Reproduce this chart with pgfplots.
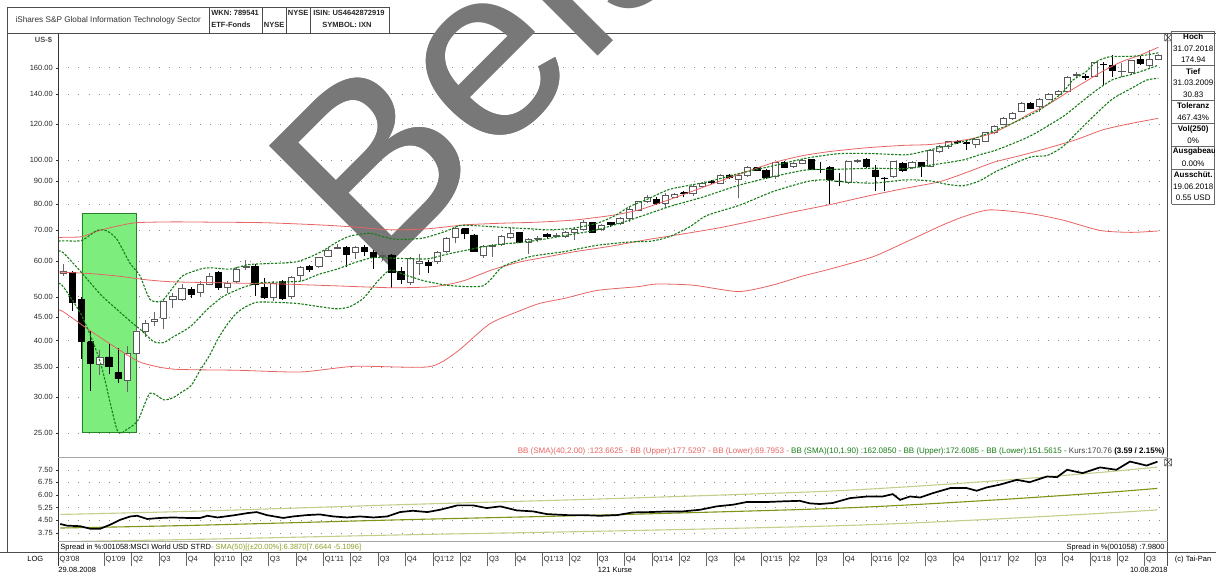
\documentclass[border=0pt]{standalone}
\usepackage{pgfplots}
\pgfplotsset{compat=1.18}
\usepackage{pgfplotstable}
\usepackage{fontspec}
\setmainfont{Liberation Sans}
\definecolor{bbred}{RGB}{232,100,100}
\definecolor{bbgreen}{RGB}{25,125,25}
\definecolor{boxgreen}{RGB}{125,238,125}
\definecolor{boxedge}{RGB}{40,130,40}
\definecolor{olivemid}{RGB}{125,150,20}
\definecolor{olivelight}{RGB}{195,208,140}
\definecolor{olivetext}{RGB}{140,160,40}
\definecolor{wm}{RGB}{120,120,120}
\definecolor{gridc}{RGB}{140,140,140}
\newcommand\fs{\fontsize{7.5}{9}\selectfont}
\newcommand\fsb{\fontsize{8}{9.5}\selectfont}
\newcommand\q{\textquotesingle}
\newcommand\wmfont{\fontsize{245}{245}\selectfont}

\pgfplotstableread{
i o h l c
0 56.4 59.0 55.5 56.8
1 56.6 57.0 46.5 48.5
2 49.3 50.0 36.5 39.8
3 39.8 42.0 31.0 35.6
4 35.4 38.2 33.5 36.8
5 36.8 39.4 33.7 35.1
6 34.0 38.5 32.3 33.0
7 32.6 38.9 30.83 37.4
8 37.4 43.0 36.6 42.0
9 41.9 44.5 40.8 43.7
10 44.2 46.3 43.1 44.5
11 44.8 49.2 42.4 48.9
12 49.2 50.8 47.3 50.0
13 49.2 53.2 48.8 52.1
14 51.9 52.6 49.7 50.7
15 51.0 54.2 50.0 53.1
16 53.3 56.3 53.0 55.5
17 56.5 57.0 51.8 52.3
18 52.3 54.1 51.0 53.5
19 53.9 58.0 53.5 57.5
20 58.0 60.3 57.2 58.4
21 58.4 59.0 50.1 53.2
22 52.4 55.0 49.5 49.7
23 49.7 54.0 48.9 53.5
24 54.0 54.3 49.2 49.5
25 50.0 55.5 49.5 55.1
26 55.6 58.5 54.0 58.1
27 58.3 58.7 56.8 57.4
28 58.3 61.3 57.8 61.0
29 61.5 64.5 61.3 63.3
30 64.0 65.3 63.6 64.3
31 64.3 64.8 58.1 62.1
32 62.5 64.6 60.6 64.1
33 64.1 65.0 61.4 62.8
34 62.6 63.5 57.6 61.0
35 61.3 63.0 60.0 61.6
36 61.8 62.2 52.2 56.5
37 56.8 58.1 53.3 54.7
38 53.8 61.0 53.1 60.6
39 59.1 62.0 55.8 59.7
40 59.6 60.2 56.3 58.5
41 59.7 63.0 59.0 62.7
42 62.9 67.8 62.5 67.3
43 67.5 71.3 65.6 70.8
44 70.6 71.0 66.9 68.9
45 68.4 68.8 62.8 63.0
46 61.6 65.0 60.9 64.5
47 64.5 65.3 61.3 64.9
48 65.3 68.5 64.7 67.8
49 67.5 71.0 67.0 68.9
50 69.2 69.5 65.5 65.9
51 65.9 67.3 62.2 66.9
52 67.0 68.0 66.0 67.2
53 68.7 69.0 67.5 67.9
54 68.0 69.2 67.6 68.3
55 67.9 69.8 67.5 69.2
56 69.2 71.2 66.7 70.5
57 70.5 73.8 70.3 72.9
58 72.9 73.2 69.2 69.2
59 70.2 72.5 69.8 72.0
60 72.9 73.2 71.3 72.1
61 72.4 74.8 72.0 74.5
62 74.5 78.8 73.2 77.9
63 77.6 81.3 77.3 81.0
64 81.0 83.6 80.3 82.7
65 81.9 83.0 79.5 80.2
66 80.2 84.6 78.4 83.6
67 82.8 84.8 82.4 84.1
68 84.8 85.3 82.8 84.6
69 84.3 88.0 83.5 87.5
70 87.5 89.5 87.0 88.7
71 89.7 90.5 88.5 89.3
72 89.0 93.2 88.5 92.8
73 92.8 93.4 90.8 91.7
74 90.5 93.0 82.4 92.5
75 92.5 97.0 92.0 96.5
76 96.3 96.8 94.5 95.2
77 94.9 95.5 91.0 91.7
78 92.0 99.2 91.0 98.8
79 98.8 99.5 96.0 96.5
80 96.8 99.0 96.2 98.5
81 98.5 100.5 98.0 99.8
82 100.2 100.5 95.0 95.5
83 95.5 99.3 93.6 95.4
84 96.3 97.0 80.1 90.8
85 90.0 93.6 87.5 89.7
86 89.3 99.8 88.7 99.3
87 99.5 100.8 98.5 99.8
88 100.5 101.0 96.3 96.8
89 95.2 97.6 85.3 92.0
90 91.4 92.0 85.3 91.2
91 92.0 99.8 91.5 99.3
92 98.5 99.3 94.3 94.9
93 96.3 99.5 95.8 99.0
94 98.8 99.3 92.0 96.8
95 96.8 105.5 96.5 105.2
96 104.5 107.8 103.5 107.2
97 107.2 110.5 106.0 109.9
98 110.2 111.0 108.5 109.6
99 109.3 110.0 105.4 109.0
100 108.6 111.5 106.3 110.9
101 109.9 115.6 109.5 115.1
102 115.1 119.5 114.5 119.0
103 120.2 124.3 119.5 123.8
104 123.8 127.5 122.5 126.9
105 128.0 134.2 127.5 133.6
106 133.6 134.2 129.5 130.2
107 131.3 137.0 128.0 136.3
108 136.3 140.5 135.5 139.8
109 140.0 142.5 139.5 141.7
110 141.7 153.0 141.3 152.4
111 153.6 156.8 152.9 154.7
112 152.9 154.7 150.0 152.6
113 153.4 165.0 152.5 164.1
114 163.0 165.0 146.6 162.5
115 162.2 170.7 152.9 157.6
116 156.8 163.6 152.9 157.0
117 156.0 166.5 155.0 165.8
118 167.0 170.0 162.5 163.6
119 162.2 174.94 160.9 167.2
120 167.2 171.5 166.5 170.76
}\candles

\pgfplotstableread{
i v
-0.548 67.4
0 67.6
2 67.8
4 70.0
6 71.6
8 72.8
12 73.1
16 73.0
22 72.8
28 72.0
32 71.2
36 70.2
40 70.6
44 72.0
48 72.6
52 73.0
56 73.8
60 75.5
63 77.6
66 81.3
69 85.5
72 90.0
75 94.5
78 99.0
81 102.3
84 104.5
88 106.5
92 107.8
95 108.3
98 110.2
100 112.0
102 115.0
104 120.5
106 127.0
108 133.0
110 141.0
112 149.0
114 157.5
116 165.0
118 170.5
120 177.5
}\redup

\pgfplotstableread{
i v
-0.548 56.7
0 56.6
3 56.2
6 55.5
9 54.5
12 53.9
18 53.6
24 53.3
30 52.8
36 52.3
40 52.5
42 53.1
44 54.3
47 57.3
50 59.6
53 61.2
56 62.8
60 64.6
64 66.8
68 68.8
72 71.0
76 73.8
80 76.9
84 79.8
88 83.2
92 86.5
96 89.6
99 94.0
102 99.0
105 102.5
108 106.5
111 111.0
114 116.8
117 120.5
120 123.7
}\redmid

\pgfplotstableread{
i v
-0.548 46.7
0 46.3
3 42.0
6 38.3
8.5 35.8
12 34.6
19 34.4
26 34.1
32 35.1
40 35.0
43 37.6
46.7 43.5
50 46.5
52.2 48.3
55 49.6
58.5 51.6
63 52.6
65 53.3
69 53.0
74 51.3
77.7 53.0
81 55.5
84 57.5
88.7 61.2
92 65.5
96 71.4
98.6 75.0
101.5 77.7
105.9 76.3
109.5 73.8
113.6 70.0
117 69.3
120 69.8
}\redlow

\pgfplotstableread{
i v
-0.548 66.3
0 66.4
2 66.5
3.7 70.0
4.8 69.8
5.9 66.8
7.3 59.3
8.4 55.6
9.5 49.3
10.8 48.9
12 52.3
13.1 55.6
15 57.5
16.1 57.9
18.3 57.5
20.2 58.8
22 59.1
24 59.3
25.6 59.7
27.1 61.2
28.5 63.2
30 66.0
31.4 68.0
33.6 69.0
35 67.8
36.5 66.9
39.4 67.3
42 69.8
43.5 71.8
45.7 71.6
48.6 71.0
51 70.6
53.3 70.2
55.9 70.8
58.5 72.6
60.5 75.5
62.1 79.1
64 82.0
66.5 86.3
70.5 89.5
74.2 93.6
77.8 97.2
81.5 101.1
85.1 103.4
88.7 103.4
92.4 102.8
95 105.4
98.6 109.9
100.4 112.7
104 120.6
107 129.1
109.5 141.0
110.6 150.0
112.1 156.8
113.2 165.0
114.7 169.2
117 169.5
118.7 170.7
120 172.6
}\gup

\pgfplotstableread{
i v
-0.548 63.0
0 62.5
2.1 56.2
4.1 50.5
5.9 46.8
7.7 43.5
8.4 42.4
9.9 39.8
11 39.6
12 40.7
13.9 42.9
15.8 46.9
17.5 50.0
19.4 52.1
21.2 53.5
23 53.8
26 54.1
28 56.0
30 57.5
32 59.5
34 61.0
36 60.8
38.3 60.6
40 60.6
42 62.0
44 63.2
46 64.4
48 65.3
50 65.8
52 66.6
55 68.2
58.5 70.2
62.1 73.8
66.5 79.1
70 82.8
74 88.0
77.8 92.0
81.5 95.2
85 95.5
88.7 96.0
92.4 95.8
95 97.5
98.6 100.1
100.4 102.8
102.3 105.4
105.9 112.9
109.5 124.6
111.4 133.6
113.3 143.1
115 150.6
117 154.5
118.7 158.5
120 162.1
}\gmid

\pgfplotstableread{
i v
-0.548 53.5
0 52.6
2.1 45.1
4.1 35.6
5.9 25.4
7 25.5
8.2 26.7
9.5 30.6
11 29.6
12 29.9
13 30.8
14 31.8
15 34.4
16 37.0
17 40.5
18 43.5
19 46.0
20 47.5
21.2 48.6
23 48.6
25.6 48.3
27.8 47.6
30 47.0
31.4 47.5
32.9 49.6
34.4 53.9
35.8 57.2
37.5 55.8
39.5 54.2
42 53.0
44.3 52.6
46 52.8
47 55.0
48.2 58.3
51.2 61.3
54.8 62.8
58.5 64.9
62.1 66.0
64.5 66.3
66.5 67.9
68.7 71.4
70.5 75.5
74.2 79.7
77.8 85.3
81.5 89.7
83.3 90.5
85.1 89.7
88.7 89.0
92.4 90.5
95 90.0
96.8 88.5
98.6 87.8
100.4 90.0
102.3 94.6
105.9 101.5
107.8 102.4
109.5 107.0
111.4 116.7
113.3 127.3
115 136.6
117 143.9
118.7 150.2
120 151.6
}\glow

\pgfplotstableread{
i v
-0.33 4.27
0.44 4.17
1.86 4.14
2.96 3.99
4.05 3.99
5.15 4.23
6.24 4.52
7.34 4.72
8.1 4.76
9.2 4.57
10.6 4.63
12.0 4.66
13.6 4.63
15.0 4.63
15.8 4.76
16.9 4.66
18.6 4.78
20.2 4.92
21.2 4.98
22.3 4.80
24.1 4.63
25.2 4.72
26.7 4.80
28.1 4.84
29.6 4.72
31.1 4.66
32.5 4.72
34.0 4.66
35.5 4.72
36.9 4.98
38.3 5.06
39.9 4.98
41.3 5.12
43.2 5.38
44.9 5.38
46.4 5.22
47.9 5.32
49.7 5.08
51.5 5.02
53.0 4.86
55.2 4.80
57.0 4.80
58.8 4.76
60.7 4.80
62.4 4.96
64.3 4.98
66.2 5.02
67.9 5.02
69.8 5.12
71.6 5.32
73.4 5.42
74.9 5.58
77.1 5.58
78.9 5.62
80.7 5.65
81.8 5.50
82.9 5.46
84.3 5.52
86.2 5.81
88.1 5.91
89.8 5.91
90.9 6.05
91.7 5.71
92.8 5.91
93.9 5.85
95.3 6.11
97.2 6.41
99.0 6.41
100.1 6.25
101.2 6.45
102.6 6.61
104.5 6.90
105.9 6.76
107.8 7.10
108.9 7.06
110.0 7.50
111.7 7.30
113.6 7.64
115.4 7.50
116.9 7.99
118.7 7.75
119.9 7.98
}\spread

\pgfplotstableread{
i mid up low
-0.33 4.03 4.84 3.22
15.0 4.20 5.04 3.36
36.9 4.52 5.42 3.62
58.8 4.80 5.76 3.84
81.8 5.15 6.18 4.12
91.7 5.38 6.46 4.30
102.6 5.72 6.86 4.58
113.6 6.12 7.34 4.90
119.9 6.39 7.66 5.11
}\sma

\begin{document}
\begin{tikzpicture}
\begin{scope}[x=1pt,y=1pt]
\useasboundingbox (0,0) rectangle (1216,574);
\fill[white] (0,0) rectangle (1216,574);
\draw[black!70, line width=0.6pt] (7,541) -- (1216,541);
\draw[black!70, line width=0.6pt] (7,541) -- (7,21);
\begin{scope}
\clip (0,0) rectangle (1216,574);
\node[anchor=base west, inner sep=0, rotate=45, text=wm, font=\wmfont] at (374,294.6) {Beispiel};
\end{scope}
\end{scope}

% ---------- main price panel ----------
\begin{axis}[at={(58pt,116pt)}, anchor=south west, scale only axis,
  width=1110pt, height=424pt,
  xmin=-0.548, xmax=121.03, ymode=log, ymin=22.05, ymax=189.9,
  xtick=\empty,
  ytick={25,30,35,40,45,50,60,70,80,90,100,120,140,160},
  yticklabels={25.00,30.00,35.00,40.00,45.00,50.00,60.00,70.00,80.00,90.00,100.00,120.00,140.00,160.00},
  yminorticks=false,
  ytick pos=left, tick align=outside, major tick length=2pt,
  ytick style={black!80},
  yticklabel style={font=\fs, text=black!85},
  ymajorgrids, grid style={gridc, dash pattern=on 0.8pt off 9.3pt},
  axis line style={draw=none},
  clip=true]
\node[anchor=base west, inner sep=0, rotate=45, text=wm, font=\wmfont] at (rel axis cs:0.284685,0.421226) {Beispiel};
\addplot[fill=boxgreen, draw=boxedge, line width=0.8pt] coordinates {(2.05,25.05) (7.96,25.05) (7.96,76.4) (2.05,76.4) (2.05,25.05)};
\pgfplotsinvokeforeach{0,...,120}{%
  \pgfplotstablegetelem{#1}{o}\of\candles \let\co\pgfplotsretval
  \pgfplotstablegetelem{#1}{h}\of\candles \let\ch\pgfplotsretval
  \pgfplotstablegetelem{#1}{l}\of\candles \let\cl\pgfplotsretval
  \pgfplotstablegetelem{#1}{c}\of\candles \let\cc\pgfplotsretval
  \pgfmathsetmacro\xa{#1-0.34}%
  \pgfmathsetmacro\xb{#1+0.34}%
  \ifdim\cc pt<\co pt \def\cstyle{fill=black, draw=black, line width=0.7pt}\def\wstyle{black}%
  \else \def\cstyle{fill=white, draw=black!65, line width=0.7pt}\def\wstyle{black!60}\fi
  \edef\doplot{\noexpand\addplot[\wstyle, line width=0.8pt] coordinates {(#1,\cl) (#1,\ch)};
    \noexpand\addplot[\cstyle] coordinates {(\xa,\co) (\xb,\co) (\xb,\cc) (\xa,\cc) (\xa,\co)};}%
  \doplot
}
\addplot[bbred, line width=0.8pt, smooth, tension=0.4] table[x=i,y=v] {\redup};
\addplot[bbred, line width=0.8pt, smooth, tension=0.4] table[x=i,y=v] {\redmid};
\addplot[bbred, line width=0.8pt, smooth, tension=0.4] table[x=i,y=v] {\redlow};
\addplot[bbgreen, line width=1.1pt, dash pattern=on 2.4pt off 1.4pt, smooth, tension=0.4] table[x=i,y=v] {\gup};
\addplot[bbgreen, line width=1.1pt, dash pattern=on 2.4pt off 1.4pt, smooth, tension=0.4] table[x=i,y=v] {\gmid};
\addplot[bbgreen, line width=1.1pt, dash pattern=on 2.4pt off 1.4pt, smooth, tension=0.4] table[x=i,y=v] {\glow};
\end{axis}

% ---------- lower spread panel ----------
\begin{axis}[at={(58pt,32pt)}, anchor=south west, scale only axis,
  width=1110pt, height=84pt,
  xmin=-0.548, xmax=121.03, ymin=3.214, ymax=8.214,
  xtick=\empty,
  ytick={3.75,4.5,5.25,6,6.75,7.5},
  yticklabels={3.75,4.50,5.25,6.00,6.75,7.50},
  ytick pos=left, tick align=outside, major tick length=2pt,
  ytick style={black!80},
  yticklabel style={font=\fs, text=black!85},
  ymajorgrids, grid style={gridc, dash pattern=on 0.8pt off 9.3pt},
  axis line style={draw=none}]
\addplot[olivelight, line width=1.1pt, smooth] table[x=i,y=up] {\sma};
\addplot[olivelight, line width=1.1pt, smooth] table[x=i,y=low] {\sma};
\addplot[olivemid, line width=1.1pt, smooth] table[x=i,y=mid] {\sma};
\addplot[black, line width=1.7pt] table[x=i,y=v] {\spread};
\end{axis}

% ---------- time axis row ----------
\begin{axis}[at={(58pt,8pt)}, anchor=south west, scale only axis,
  width=1110pt, height=13pt,
  xmin=-0.548, xmax=121.03, ymin=0, ymax=1, ytick=\empty,
  xtick={-0.548,4.5,7.5,10.5,13.5,16.5,19.5,22.5,25.5,28.5,31.5,34.5,37.5,40.5,43.5,46.5,49.5,52.5,55.5,58.5,61.5,64.5,67.5,70.5,73.5,76.5,79.5,82.5,85.5,88.5,91.5,94.5,97.5,100.5,103.5,106.5,109.5,112.5,115.5,118.5},
  xticklabels={Q3\q08,Q1\q09,Q2,Q3,Q4,Q1\q10,Q2,Q3,Q4,Q1\q11,Q2,Q3,Q4,Q1\q12,Q2,Q3,Q4,Q1\q13,Q2,Q3,Q4,Q1\q14,Q2,Q3,Q4,Q1\q15,Q2,Q3,Q4,Q1\q16,Q2,Q3,Q4,Q1\q17,Q2,Q3,Q4,Q1\q18,Q2,Q3},
  xmajorgrids, major grid style={black!60, line width=0.5pt},
  major tick length=0pt,
  xticklabel style={anchor=west, font=\fs, text=black!85, yshift=6.5pt, inner sep=1.2pt},
  axis line style={draw=none}]
\addplot[draw=none] coordinates {(0,0.5)};
\end{axis}

\begin{scope}[x=1pt,y=1pt]
\draw[black!80, line width=0.6pt] (58,541) -- (58,8);
\draw[black!70, line width=0.6pt] (1168,541) -- (1168,8);
\draw[gray!70, line width=1.3pt] (58,116) -- (1168,116);
\draw[gray!70, line width=1.3pt] (58,32) -- (1168,32);
\draw[black!70, line width=0.6pt] (0,21) -- (1216,21);
\draw[black!70, line width=0.5pt] (1165,533) rectangle (1172,540) (1165,533) -- (1172,540) (1165,540) -- (1172,533);
\draw[black!70, line width=0.5pt] (1165,108) rectangle (1172,115) (1165,108) -- (1172,115) (1165,115) -- (1172,108);
% header
\draw[black!70, line width=0.6pt] (7,566.3) rectangle (389,541);
\foreach \x in {209,262,286,310} \draw[black!70, line width=0.6pt] (\x,566.3) -- (\x,541);
\node[font=\fontsize{8.2}{9}\selectfont, text=black!80] at (108,554) {iShares S\&P Global Information Technology Sector};
\node[font=\fs\bfseries, anchor=west, inner sep=0, text=black!85] at (211,561) {WKN: 789541};
\node[font=\fs\bfseries, anchor=west, inner sep=0, text=black!85] at (211,549) {ETF-Fonds};
\node[font=\fs\bfseries, text=black!85] at (274,549) {NYSE};
\node[font=\fs\bfseries, text=black!85] at (298,561) {NYSE};
\node[font=\fs\bfseries, anchor=west, inner sep=0, text=black!85] at (313,561) {ISIN: US4642872919};
\node[font=\fs\bfseries, anchor=west, inner sep=0, text=black!85] at (322,549) {SYMBOL: IXN};
% right info panel
\foreach \y in {543,508.5,474,451,428,405,370} \draw[black!60, line width=0.5pt] (1172,\y) -- (1215,\y);
\draw[black!60, line width=0.5pt] (1172,543) -- (1172,370) (1215,543) -- (1215,370);
\begin{scope}
\clip (1172,360) rectangle (1215,545);
\node[font=\fsb\bfseries] at (1193.5,537) {Hoch};
\node[font=\fsb] at (1193.5,525.5) {31.07.2018};
\node[font=\fsb] at (1193.5,514) {174.94};
\node[font=\fsb\bfseries] at (1193.5,502.5) {Tief};
\node[font=\fsb] at (1193.5,491) {31.03.2009};
\node[font=\fsb] at (1193.5,479.5) {30.83};
\node[font=\fsb\bfseries] at (1193.5,468) {Toleranz};
\node[font=\fsb] at (1193.5,456.5) {467.43\%};
\node[font=\fsb\bfseries] at (1193.5,445) {Vol(250)};
\node[font=\fsb] at (1193.5,433.5) {0\%};
\node[font=\fsb\bfseries, anchor=west, inner sep=0] at (1173,422) {Ausgabeaufschlag};
\node[font=\fsb] at (1193.5,410.5) {0.00\%};
\node[font=\fsb\bfseries] at (1193.5,399) {Ausschüt.};
\node[font=\fsb] at (1193.5,387.5) {19.06.2018};
\node[font=\fsb] at (1193.5,376) {0.55 USD};
\end{scope}
% labels
\node[font=\fs\bfseries, text=black!70, anchor=east, inner sep=0] at (52,534) {US-\$};
\node[anchor=east, font=\fsb, inner sep=0] at (1165,122) {\textcolor{bbred}{BB (SMA)(40,2.00) :123.6625 - BB (Upper):177.5297 - BB (Lower):69.7953 - }\textcolor{bbgreen}{BB (SMA)(10,1.90) :162.0850 - BB (Upper):172.6085 - BB (Lower):151.5615 - }\textcolor{black!75}{Kurs:170.76 }\textbf{(3.59 / 2.15\%)}};
\node[anchor=west, font=\fs, inner sep=0] at (60,26.5) {Spread in \%:001058:MSCI World USD STRD\textcolor{olivetext}{ - SMA(50)[(±20.00\%]:6.3870[7.6644 -5.1096]}};
\node[anchor=east, font=\fs, inner sep=0] at (1165,26.5) {Spread in \%(001058) :7.9800};
\node[font=\fs] at (35,14.5) {LOG};
\node[anchor=west, font=\fs, inner sep=0] at (1175,14.5) {(c) Tai-Pan};
\node[anchor=west, font=\fs, inner sep=0] at (58,3.5) {29.08.2008};
\node[font=\fs, inner sep=0] at (615,3.5) {121 Kurse};
\node[anchor=east, font=\fs, inner sep=0] at (1168,3.5) {10.08.2018};
\end{scope}
\end{tikzpicture}
\end{document}
